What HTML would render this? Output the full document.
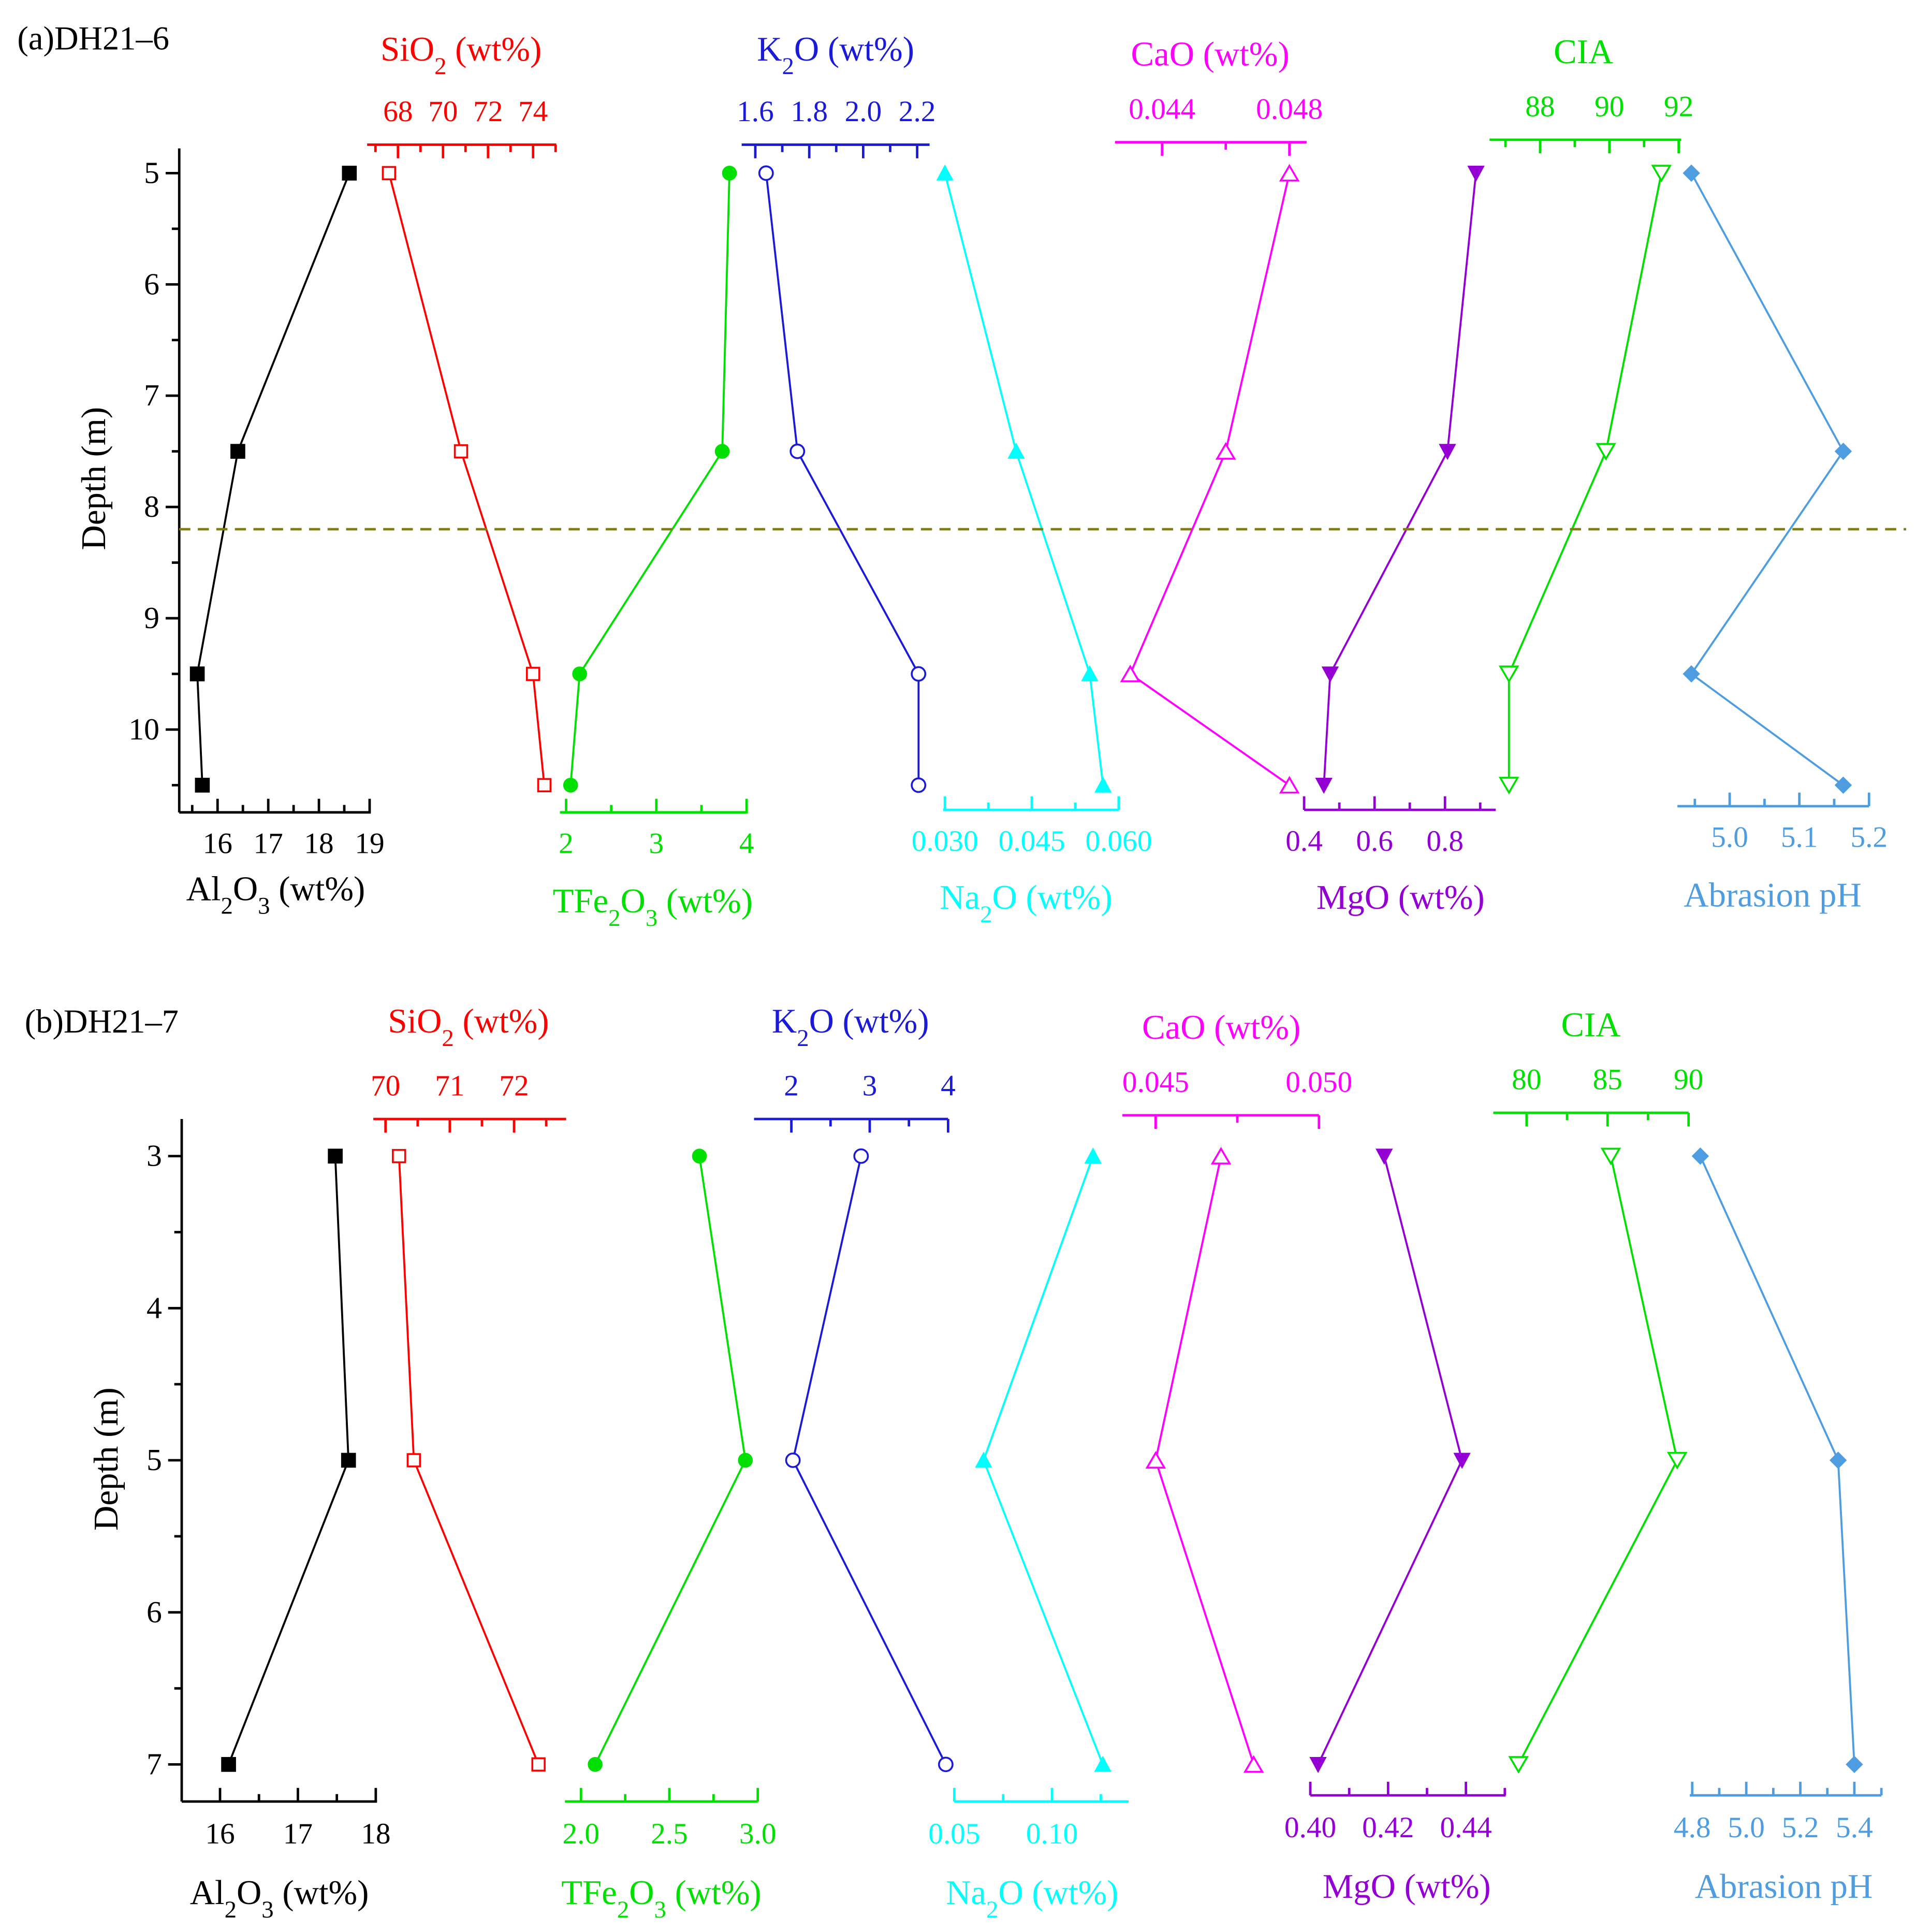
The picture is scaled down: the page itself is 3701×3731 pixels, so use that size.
<!DOCTYPE html>
<html><head><meta charset="utf-8"><style>
html,body{margin:0;padding:0;background:#fff;}
svg{display:block;}
svg text{font-family:"Liberation Serif",serif;}
</style></head><body>
<svg id="chart" xmlns="http://www.w3.org/2000/svg" width="3701" height="3731" viewBox="0 0 1550 1562.5" font-family="Liberation Serif, serif">
<rect width="1550" height="1562.5" fill="#fff"/>
</svg>
<script>
// ---- Panel (a) DH21-6 data ----
const depthA=[5,7.5,9.5,10.5];
const al2o3A=[18.6,16.4,15.6,15.7];
const sio2A=[67.6,70.8,74.0,74.5];
const tfe2o3A=[3.81,3.73,2.15,2.05];
const k2oA=[1.64,1.756,2.205,2.205];
const na2oA=[0.030,0.0423,0.055,0.0573];
const caoA=[0.048,0.046,0.043,0.048];
const mgoA=[0.888,0.807,0.474,0.456];
const ciaA=[91.5,89.9,87.1,87.1];
const phA=[4.945,5.163,4.945,5.163];
const depthTicksA=[5,6,7,8,9,10];
const boundaryDepthA=8.2;
// ---- Panel (b) DH21-7 data ----
const depthB=[3,5,7];
const al2o3B=[17.48,17.65,16.11];
const sio2B=[70.21,70.44,72.38];
const tfe2o3B=[2.67,2.93,2.08];
const k2oB=[2.89,2.02,3.97];
const na2oB=[0.121,0.065,0.126];
const caoB=[0.047,0.045,0.048];
const mgoB=[0.419,0.439,0.402];
const ciaB=[85.2,89.3,79.5];
const phB=[4.83,5.34,5.40];
const depthTicksB=[3,4,5,6,7];
// tick labels
const tAl_A=['16','17','18','19'], tSi_A=['68','70','72','74'], tFe_A=['2','3','4'], tK_A=['1.6','1.8','2.0','2.2'];
const tNa_A=['0.030','0.045','0.060'], tCa_A=['0.044','0.048'], tMg_A=['0.4','0.6','0.8'], tCIA_A=['88','90','92'], tPh_A=['5.0','5.1','5.2'];
const tAl_B=['16','17','18'], tSi_B=['70','71','72'], tFe_B=['2.0','2.5','3.0'], tK_B=['2','3','4'];
const tNa_B=['0.05','0.10'], tCa_B=['0.045','0.050'], tMg_B=['0.40','0.42','0.44'], tCIA_B=['80','85','90'], tPh_B=['4.8','5.0','5.2','5.4'];

const NS='http://www.w3.org/2000/svg';
const svg=document.getElementById('chart');
const FF='"Liberation Serif", serif';
function mk(tag,attrs,parent){const e=document.createElementNS(NS,tag);for(const k in attrs)e.setAttribute(k,attrs[k]);if(tag==='text')e.setAttribute('font-family',FF);(parent||svg).appendChild(e);return e;}
function lin(d0,d1,p0,p1){return v=>p0+(v-d0)*(p1-p0)/(d1-d0);}

function titleText(g,x,y,color,parts,size){
  const sz=size||28;
  const t=mk('text',{x:x,y:y,fill:color,'font-size':sz,'text-anchor':'middle'},g);
  parts.forEach(p=>{const s=mk('tspan',p[1]?{'baseline-shift':'sub','font-size':sz*0.7}:{},t);s.textContent=p[0];});
  return t;
}

function marker(g,type,x,y,color){
  const s=6;let e;
  if(type==='sqF')e=mk('rect',{x:x-s,y:y-s,width:2*s,height:2*s,fill:color},g);
  else if(type==='sqO')e=mk('rect',{x:x-s+1,y:y-s+1,width:2*s-2,height:2*s-2,fill:'#fff',stroke:color,'stroke-width':1.5},g);
  else if(type==='cirF')e=mk('circle',{cx:x,cy:y,r:s,fill:color},g);
  else if(type==='cirO')e=mk('circle',{cx:x,cy:y,r:s-0.5,fill:'#fff',stroke:color,'stroke-width':1.5},g);
  else if(type==='triF')e=mk('polygon',{points:`${x},${y-7} ${x-7},${y+6} ${x+7},${y+6}`,fill:color},g);
  else if(type==='triO')e=mk('polygon',{points:`${x},${y-6} ${x-7},${y+6} ${x+7},${y+6}`,fill:'#fff',stroke:color,'stroke-width':1.5},g);
  else if(type==='dtriF')e=mk('polygon',{points:`${x},${y+7} ${x-7},${y-6} ${x+7},${y-6}`,fill:color},g);
  else if(type==='dtriO')e=mk('polygon',{points:`${x},${y+6} ${x-7},${y-6} ${x+7},${y-6}`,fill:'#fff',stroke:color,'stroke-width':1.5},g);
  else if(type==='dia')e=mk('polygon',{points:`${x},${y-7} ${x+7},${y} ${x},${y+7} ${x-7},${y}`,fill:color},g);
  
  
}

function series(cfg,depths,vals,ys,labels){
  const g=mk('g',{});
  
  
  const sx=lin(cfg.d0,cfg.d1,cfg.p0,cfg.p1);
  const ag=mk('g',{stroke:cfg.color,'stroke-width':2},g);
  
  
  mk('line',{x1:cfg.p0,x2:cfg.p1,y1:cfg.ay,y2:cfg.ay},ag);
  const dir=cfg.top?1:-1;
  const lo=Math.min(cfg.d0,cfg.d1),hi=Math.max(cfg.d0,cfg.d1);
  const start=Math.ceil(lo/cfg.minor-1e-6);
  for(let i=start;i*cfg.minor<=hi+1e-9;i++){
    const v=i*cfg.minor;const isMaj=Math.abs(v/cfg.major-Math.round(v/cfg.major))<1e-6;
    const x=sx(v);mk('line',{x1:x,x2:x,y1:cfg.ay,y2:cfg.ay+dir*(isMaj?11:6)},ag);
  }
  labels.forEach(l=>{
    const t=mk('text',{x:sx(parseFloat(l)),y:cfg.ly,fill:cfg.color,'font-size':24,'text-anchor':'middle',stroke:'none'},g);
    t.textContent=l;
    
    
  });
  const tt=titleText(g,cfg.tx,cfg.ty,cfg.color,cfg.title);
  
  
  const pts=vals.map((v,i)=>sx(v).toFixed(1)+','+ys(depths[i]).toFixed(1)).join(' ');
  const pl=mk('polyline',{points:pts,fill:'none',stroke:cfg.color,'stroke-width':1.6},g);
  
  
  vals.forEach((v,i)=>marker(g,cfg.mk,sx(v),ys(depths[i]),cfg.color));
}

function depthAxis(x,yTop,yBot,ys,ticks,minor,lx,ly){
  const g=mk('g',{});
  
  
  mk('line',{x1:x,x2:x,y1:yTop,y2:yBot,stroke:'#000','stroke-width':2},g);
  const inR=y=>y>=yTop&&y<=yBot;
  ticks.forEach(d=>{
    mk('line',{x1:x-11,x2:x,y1:ys(d),y2:ys(d),stroke:'#000','stroke-width':2},g);
    if(inR(ys(d+minor)))mk('line',{x1:x-6,x2:x,y1:ys(d+minor),y2:ys(d+minor),stroke:'#000','stroke-width':2},g);
    const t=mk('text',{x:x-16,y:ys(d)+8,'font-size':25,'text-anchor':'end'},g);t.textContent=d;
    
    
  });
  if(inR(ys(ticks[0]-minor)))mk('line',{x1:x-6,x2:x,y1:ys(ticks[0]-minor),y2:ys(ticks[0]-minor),stroke:'#000','stroke-width':2},g);
  const t=mk('text',{x:lx,y:ly,'font-size':28,'text-anchor':'middle',transform:`rotate(-90 ${lx} ${ly})`},g);
  t.textContent='Depth (m)';
  
  
}

const RED='#ff0000',GRN='#00e000',BLU='#1a1ad8',CYN='#00ffff',MAG='#ff00ff',PUR='#9400d3',PH='#4d9de0';

// ---------- Panel A ----------
const ysA=lin(5,10.5,140,635);
depthAxis(145,120,657,ysA,depthTicksA,0.5,85,387);
let pa=mk('text',{x:14,y:40,'font-size':27});pa.textContent='(a)DH21–6';

series({name:'al2o3-a',color:'#000',mk:'sqF',top:false,ay:657,ly:690,p0:145,p1:300,d0:15.244,d1:19.024,major:1,minor:0.5,tx:223,ty:728,title:[['Al'],['2',1],['O'],['3',1],[' (wt%)']]},depthA,al2o3A,ysA,tAl_A);
series({name:'sio2-a',color:RED,mk:'sqO',top:true,ay:117,ly:98,p0:297,p1:450,d0:66.63,d1:75.03,major:2,minor:1,tx:373,ty:49,title:[['SiO'],['2',1],[' (wt%)']]},depthA,sio2A,ysA,tSi_A);
series({name:'tfe2o3-a',color:GRN,mk:'cirF',top:false,ay:657,ly:690,p0:453,p1:605,d0:1.932,d1:4.014,major:1,minor:0.5,tx:528,ty:738,title:[['TFe'],['2',1],['O'],['3',1],[' (wt%)']]},depthA,tfe2o3A,ysA,tFe_A);
series({name:'k2o-a',color:BLU,mk:'cirO',top:true,ay:117,ly:98,p0:600,p1:752,d0:1.5495,d1:2.246,major:0.2,minor:0.1,tx:676,ty:49,title:[['K'],['2',1],['O (wt%)']]},depthA,k2oA,ysA,tK_A);
series({name:'na2o-a',color:CYN,mk:'triF',top:false,ay:655,ly:688,p0:763,p1:905,d0:0.0297,d1:0.0600,major:0.015,minor:0.0075,tx:830,ty:735,title:[['Na'],['2',1],['O (wt%)']]},depthA,na2oA,ysA,tNa_A);
series({name:'cao-a',color:MAG,mk:'triO',top:true,ay:115,ly:96,p0:902,p1:1057,d0:0.04252,d1:0.04854,major:0.004,minor:0.002,tx:979,ty:53,title:[['CaO (wt%)']]},depthA,caoA,ysA,tCa_A);
series({name:'mgo-a',color:PUR,mk:'dtriF',top:false,ay:655,ly:688,p0:1055,p1:1210,d0:0.4,d1:0.944,major:0.2,minor:0.1,tx:1133,ty:735,title:[['MgO (wt%)']]},depthA,mgoA,ysA,tMg_A);
series({name:'cia-a',color:GRN,mk:'dtriO',top:true,ay:113,ly:94,p0:1205,p1:1360,d0:86.54,d1:92.07,major:2,minor:1,tx:1281,ty:51,title:[['CIA']]},depthA,ciaA,ysA,tCIA_A);
series({name:'abrasion-ph-a',color:PH,mk:'dia',top:false,ay:652,ly:685,p0:1357,p1:1512,d0:4.925,d1:5.2,major:0.1,minor:0.05,tx:1434,ty:733,title:[['Abrasion pH']]},depthA,phA,ysA,tPh_A);
const bl=mk('line',{x1:145,x2:1542,y1:ysA(boundaryDepthA),y2:ysA(boundaryDepthA),stroke:'#7f7f10','stroke-width':2,'stroke-dasharray':'9,6'});


// ---------- Panel B ----------
const ysB=lin(3,7,935,1427);
depthAxis(147,905,1457,ysB,depthTicksB,0.5,95,1180);
let pb=mk('text',{x:20,y:835,'font-size':27});pb.textContent='(b)DH21–7';

series({name:'al2o3-b',color:'#000',mk:'sqF',top:false,ay:1457,ly:1491,p0:147,p1:305,d0:15.508,d1:18.016,major:1,minor:0.5,tx:226,ty:1540,title:[['Al'],['2',1],['O'],['3',1],[' (wt%)']]},depthB,al2o3B,ysB,tAl_B);
series({name:'sio2-b',color:RED,mk:'sqO',top:true,ay:905,ly:886,p0:302,p1:458,d0:69.81,d1:72.81,major:1,minor:0.5,tx:379,ty:835,title:[['SiO'],['2',1],[' (wt%)']]},depthB,sio2B,ysB,tSi_B);
series({name:'tfe2o3-b',color:GRN,mk:'cirF',top:false,ay:1457,ly:1491,p0:457,p1:613,d0:1.909,d1:3.0,major:0.5,minor:0.25,tx:535,ty:1540,title:[['TFe'],['2',1],['O'],['3',1],[' (wt%)']]},depthB,tfe2o3B,ysB,tFe_B);
series({name:'k2o-b',color:BLU,mk:'cirO',top:true,ay:905,ly:886,p0:610,p1:767,d0:1.524,d1:4.0,major:1,minor:0.5,tx:688,ty:835,title:[['K'],['2',1],['O (wt%)']]},depthB,k2oB,ysB,tK_B);
series({name:'na2o-b',color:CYN,mk:'triF',top:false,ay:1457,ly:1491,p0:772,p1:913,d0:0.05,d1:0.1392,major:0.05,minor:0.025,tx:835,ty:1540,title:[['Na'],['2',1],['O (wt%)']]},depthB,na2oB,ysB,tNa_B);
series({name:'cao-b',color:MAG,mk:'triO',top:true,ay:902,ly:883,p0:908,p1:1067,d0:0.04398,d1:0.050,major:0.005,minor:0.0025,tx:988,ty:840,title:[['CaO (wt%)']]},depthB,caoB,ysB,tCa_B);
series({name:'mgo-b',color:PUR,mk:'dtriF',top:false,ay:1452,ly:1486,p0:1060,p1:1218,d0:0.40,d1:0.4502,major:0.02,minor:0.01,tx:1138,ty:1535,title:[['MgO (wt%)']]},depthB,mgoB,ysB,tMg_B);
series({name:'cia-b',color:GRN,mk:'dtriO',top:true,ay:900,ly:881,p0:1208,p1:1366,d0:77.94,d1:90,major:5,minor:2.5,tx:1287,ty:838,title:[['CIA']]},depthB,ciaB,ysB,tCIA_B);
series({name:'abrasion-ph-b',color:PH,mk:'dia',top:false,ay:1452,ly:1486,p0:1367,p1:1522,d0:4.791,d1:5.5,major:0.2,minor:0.1,tx:1443,ty:1535,title:[['Abrasion pH']]},depthB,phB,ysB,tPh_B);
</script>
</body></html>
